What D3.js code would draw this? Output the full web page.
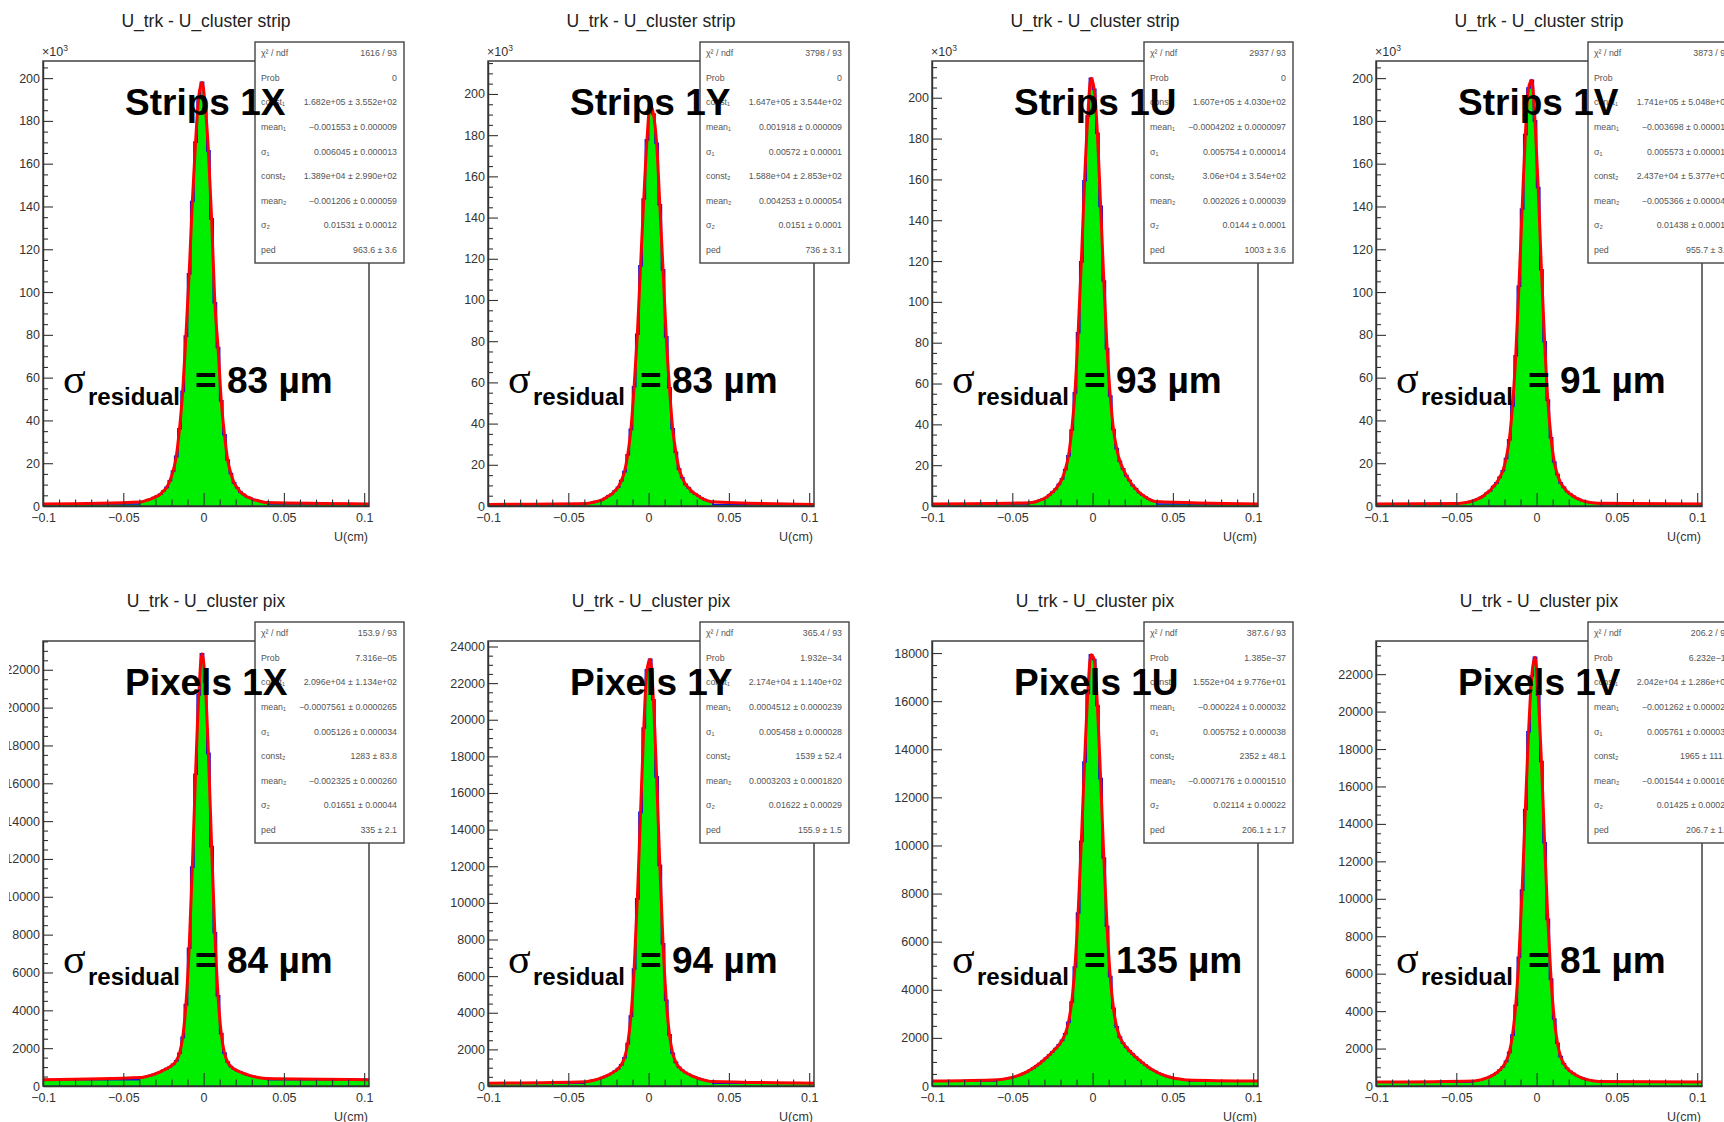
<!DOCTYPE html>
<html>
<head>
<meta charset="utf-8">
<script src="https://cdnjs.cloudflare.com/ajax/libs/d3/7.8.5/d3.min.js"></script>
<style>
  html, body { margin: 0; padding: 0; background: #fff; }
  #residual-grid svg { display: block; font-family: "Liberation Sans", Arial, Helvetica, sans-serif; }
</style>
</head>
<body>
<div id="residual-grid"></div>
<script>
const panelLabels = ["Strips 1X", "Strips 1Y", "Strips 1U", "Strips 1V", "Pixels 1X", "Pixels 1Y", "Pixels 1U", "Pixels 1V"];
const panelTitles = [
  "U_trk - U_cluster strip", "U_trk - U_cluster strip", "U_trk - U_cluster strip", "U_trk - U_cluster strip",
  "U_trk - U_cluster pix", "U_trk - U_cluster pix", "U_trk - U_cluster pix", "U_trk - U_cluster pix"
];
const residualLabels = ["83 µm", "83 µm", "93 µm", "91 µm", "84 µm", "94 µm", "135 µm", "81 µm"];

// strips are counted in units of 10^3 entries (as on their axes), pixels in entries
const yAxisMax = [208, 216, 218, 208, 23520, 24300, 18500, 23770];
const pedestals = [0.96, 0.74, 1.0, 0.96, 335, 156, 206, 207];
const windowStarts = [-0.04, -0.04, -0.04, -0.05, -0.04, -0.04, -0.06, -0.04];
const binWidth = 0.002;

const strips1X = [1.9, 2.3, 2.8, 3.2, 3.9, 4.6, 5.5, 7.0, 8.7, 11.8, 16.3, 23.2, 36.1, 53.6, 79.4, 108.5, 142.3, 170.1, 191.4, 198.0,
  187.1, 166.0, 134.2, 95.0, 74.1, 49.2, 33.3, 21.5, 15.2, 10.8, 8.5, 6.5, 5.4, 4.3, 3.8, 3.0, 2.7, 2.2, 1.9, 1.6];
const strips1Y = [1.2, 1.4, 1.7, 2.1, 2.5, 3.0, 3.9, 4.9, 5.8, 7.4, 9.1, 12.3, 16.7, 24.9, 37.2, 57.9, 83.4, 116.6, 149.0, 177.8,
  194.8, 190.3, 176.1, 146.2, 114.6, 82.1, 57.4, 37.5, 26.1, 17.9, 13.7, 10.5, 8.8, 7.0, 5.9, 4.9, 3.8, 3.1, 2.5, 2.1];
const strips1U = [1.6, 1.8, 2.2, 2.8, 3.4, 4.2, 5.4, 6.8, 8.3, 10.6, 13.3, 17.9, 24.6, 37.2, 55.4, 84.9, 119.6, 159.3, 191.0, 209.5,
  204.1, 182.6, 146.8, 110.2, 77.1, 53.9, 37.5, 28.2, 21.9, 18.2, 14.9, 12.5, 10.1, 8.4, 6.6, 5.4, 4.4, 3.4, 2.7, 2.2];
const strips1V = [1.2, 1.34, 1.52, 1.76, 2.11, 2.6, 3.2, 3.9, 4.8, 6.1, 7.2, 9.1, 10.8, 13.4, 16.5, 22.2, 31.0, 46.8, 70.2, 102.7,
  138.8, 173.6, 195.4, 199.0, 180.0, 148.9, 110.4, 76.8, 49.5, 31.9, 20.6, 14.7, 10.8, 8.7, 6.8, 5.6, 4.5, 3.6, 3.0, 2.4,
  2.0, 1.7, 1.5, 1.35, 1.25];
const pixels1X = [444, 476, 516, 562, 617, 681, 752, 834, 920, 1018, 1143, 1336, 1728, 2569, 4300, 7280, 11570, 16480, 20670, 22850,
  21360, 17580, 12650, 8100, 4770, 2770, 1740, 1265, 1033, 900, 810, 733, 663, 601, 548, 503, 465, 435, 411, 391];
const pixels1Y = [236, 262, 298, 341, 390, 455, 525, 607, 699, 811, 949, 1156, 1543, 2315, 3815, 6391, 10217, 14940, 19550, 22730,
  23300, 21090, 16880, 12050, 7770, 4680, 2800, 1790, 1290, 1020, 860, 740, 642, 556, 482, 416, 361, 315, 276, 247];
const pixels1U = [258, 274, 293, 316, 345, 380, 420, 467, 524, 589, 662, 745, 839, 937, 1050, 1166, 1290, 1422, 1560, 1712,
  1898, 2171, 2652, 3495, 4949, 7195, 10170, 13470, 16320, 17930, 17730, 15820, 12780, 9480, 6640, 4550, 3230, 2457, 2033, 1789,
  1611, 1460, 1328, 1203, 1083, 970, 867, 770, 686, 611, 540, 484, 434, 389, 354, 324, 300, 279, 262, 251];
const pixels1V = [268, 293, 329, 374, 433, 506, 596, 706, 848, 1032, 1317, 1796, 2719, 4313, 6878, 10470, 14770, 18920, 21900, 22900,
  20870, 17330, 12990, 8900, 5710, 3575, 2284, 1568, 1189, 951, 785, 665, 561, 478, 409, 356, 315, 284, 260, 242];
const binCounts = [strips1X, strips1Y, strips1U, strips1V, pixels1X, pixels1Y, pixels1U, pixels1V];

const xTickValues = [-0.1, -0.05, 0, 0.05, 0.1];
const stripYTicks = [0, 20, 40, 60, 80, 100, 120, 140, 160, 180, 200];
const pixelYTicks = [0, 2000, 4000, 6000, 8000, 10000, 12000, 14000, 16000, 18000, 20000, 22000, 24000];

const statLabels = ["χ² / ndf", "Prob", "const₁", "mean₁", "σ₁", "const₂", "mean₂", "σ₂", "ped"];
const statValues = [
  ["1616 / 93", "0", "1.682e+05 ± 3.552e+02", "−0.001553 ± 0.000009", "0.006045 ± 0.000013", "1.389e+04 ± 2.990e+02", "−0.001206 ± 0.000059", "0.01531 ± 0.00012", "963.6 ± 3.6"],
  ["3798 / 93", "0", "1.647e+05 ± 3.544e+02", "0.001918 ± 0.000009", "0.00572 ± 0.00001", "1.588e+04 ± 2.853e+02", "0.004253 ± 0.000054", "0.0151 ± 0.0001", "736 ± 3.1"],
  ["2937 / 93", "0", "1.607e+05 ± 4.030e+02", "−0.0004202 ± 0.0000097", "0.005754 ± 0.000014", "3.06e+04 ± 3.54e+02", "0.002026 ± 0.000039", "0.0144 ± 0.0001", "1003 ± 3.6"],
  ["3873 / 93", "0", "1.741e+05 ± 5.048e+02", "−0.003698 ± 0.000012", "0.005573 ± 0.000016", "2.437e+04 ± 5.377e+02", "−0.005366 ± 0.000045", "0.01438 ± 0.00010", "955.7 ± 3.5"],
  ["153.9 / 93", "7.316e−05", "2.096e+04 ± 1.134e+02", "−0.0007561 ± 0.0000265", "0.005126 ± 0.000034", "1283 ± 83.8", "−0.002325 ± 0.000260", "0.01651 ± 0.00044", "335 ± 2.1"],
  ["365.4 / 93", "1.932e−34", "2.174e+04 ± 1.140e+02", "0.0004512 ± 0.0000239", "0.005458 ± 0.000028", "1539 ± 52.4", "0.0003203 ± 0.0001820", "0.01622 ± 0.00029", "155.9 ± 1.5"],
  ["387.6 / 93", "1.385e−37", "1.552e+04 ± 9.776e+01", "−0.000224 ± 0.000032", "0.005752 ± 0.000038", "2352 ± 48.1", "−0.0007176 ± 0.0001510", "0.02114 ± 0.00022", "206.1 ± 1.7"],
  ["206.2 / 93", "6.232e−11", "2.042e+04 ± 1.286e+02", "−0.001262 ± 0.000023", "0.005761 ± 0.000030", "1965 ± 111.5", "−0.001544 ± 0.000161", "0.01425 ± 0.00028", "206.7 ± 1.6"]
];

class ResidualGrid {
  constructor(containerId) {
    this.containerId = containerId;
    this.width = 1724;
    this.height = 1122;
    this.panelLeft = [43, 488, 932, 1376];
    this.rowTop = [61, 641];
    this.frameWidth = 326;
    this.frameHeight = 445;
    this.xDomain = [-0.1, 0.103];
  }

  render() {
    const svg = d3.select(`#${this.containerId}`)
      .append("svg")
      .attr("width", this.width)
      .attr("height", this.height);

    svg.append("rect")
      .attr("width", this.width)
      .attr("height", this.height)
      .attr("fill", "#fff");

    // the original canvas was cropped a few pixels into the left axis labels
    svg.append("clipPath")
      .attr("id", "page-clip")
      .append("rect")
      .attr("x", 9)
      .attr("width", this.width - 9)
      .attr("height", this.height);

    const page = svg.append("g").attr("clip-path", "url(#page-clip)");

    panelLabels.forEach((label, index) => this.drawPanel(page, svg, index));
  }

  drawPanel(page, svg, index) {
    const col = index % 4;
    const row = Math.floor(index / 4);
    const isStrip = row === 0;
    const w = this.frameWidth;
    const h = this.frameHeight;
    const ped = pedestals[index];
    const counts = binCounts[index];
    const start = windowStarts[index];
    const end = start + counts.length * binWidth;

    const g = page.append("g")
      .attr("transform", `translate(${this.panelLeft[col]},${this.rowTop[row]})`);

    const x = d3.scaleLinear().domain(this.xDomain).range([0, w]);
    const y = d3.scaleLinear().domain([0, yAxisMax[index]]).range([h, 0]);

    const clipId = `frame-clip-${index}`;
    svg.append("clipPath")
      .attr("id", clipId)
      .append("rect")
      .attr("width", w)
      .attr("height", h);

    const stepPoints = [{ u: this.xDomain[0], v: ped }]
      .concat(counts.map((v, k) => ({ u: start + k * binWidth, v })))
      .concat([{ u: end, v: ped }, { u: this.xDomain[1], v: ped }]);
    const fitPoints = [{ u: this.xDomain[0], v: ped }]
      .concat(counts.map((v, k) => ({ u: start + (k + 0.5) * binWidth, v })))
      .concat([{ u: this.xDomain[1], v: ped }]);

    const plot = g.append("g").attr("clip-path", `url(#${clipId})`);

    plot.append("path")
      .datum(stepPoints)
      .attr("fill", "#00ee00")
      .attr("d", d3.area()
        .x((d) => x(d.u))
        .y0(h)
        .y1((d) => y(d.v))
        .curve(d3.curveStepAfter));

    plot.append("path")
      .datum(stepPoints)
      .attr("fill", "none")
      .attr("stroke", "#1010e0")
      .attr("stroke-width", 1.6)
      .attr("d", d3.line()
        .x((d) => x(d.u))
        .y((d) => y(d.v))
        .curve(d3.curveStepAfter));

    plot.append("path")
      .datum(fitPoints)
      .attr("fill", "none")
      .attr("stroke", "#ff0000")
      .attr("stroke-width", 3)
      .attr("stroke-linejoin", "round")
      .attr("d", d3.line()
        .x((d) => x(d.u))
        .y((d) => y(d.v))
        .curve(d3.curveMonotoneX));

    const fontFamily = "Liberation Sans, Arial, Helvetica, sans-serif";
    const styleAxis = (axisGroup) => axisGroup
      .attr("font-family", fontFamily)
      .attr("font-size", 12.5)
      .call((a) => a.selectAll("line").attr("stroke", "#333").attr("stroke-width", 1.1))
      .call((a) => a.selectAll("text").attr("fill", "#333"))
      .call((a) => a.select(".domain").attr("stroke", "#333").attr("stroke-width", 1.4));

    // x axis, major and minor ticks
    const xMinor = d3.range(-10, 11)
      .map((t) => t / 100)
      .filter((t) => !xTickValues.some((m) => Math.abs(m - t) < 1e-9));

    g.append("g")
      .attr("transform", `translate(0,${h})`)
      .call(d3.axisBottom(x).tickValues(xMinor).tickSizeInner(-6.5).tickSizeOuter(0).tickFormat(""))
      .call((a) => a.select(".domain").remove())
      .call((a) => a.selectAll("line").attr("stroke", "#333").attr("stroke-width", 1.1));

    g.append("g")
      .attr("transform", `translate(0,${h})`)
      .call(d3.axisBottom(x)
        .tickValues(xTickValues)
        .tickSizeInner(-13)
        .tickSizeOuter(0)
        .tickPadding(7)
        .tickFormat(d3.format("~g")))
      .call(styleAxis);

    // y axis
    const yMajorStep = isStrip ? 20 : 2000;
    const yMinorStep = isStrip ? 5 : 500;
    const yTicks = (isStrip ? stripYTicks : pixelYTicks).filter((t) => t <= yAxisMax[index]);
    const yMinor = d3.range(0, yAxisMax[index], yMinorStep).filter((t) => t % yMajorStep !== 0);

    g.append("g")
      .call(d3.axisLeft(y).tickValues(yMinor).tickSizeInner(-5).tickSizeOuter(0).tickFormat(""))
      .call((a) => a.select(".domain").remove())
      .call((a) => a.selectAll("line").attr("stroke", "#333").attr("stroke-width", 1.1));

    g.append("g")
      .call(d3.axisLeft(y)
        .tickValues(yTicks)
        .tickSizeInner(-10)
        .tickSizeOuter(0)
        .tickPadding(3)
        .tickFormat(d3.format("d")))
      .call(styleAxis);

    g.append("rect")
      .attr("width", w)
      .attr("height", h)
      .attr("fill", "none")
      .attr("stroke", "#333")
      .attr("stroke-width", 1.4);

    if (isStrip) {
      const exp = g.append("text")
        .attr("x", -1)
        .attr("y", -5)
        .attr("font-size", 12.5)
        .attr("fill", "#333")
        .text("×10");
      exp.append("tspan")
        .attr("dy", -5)
        .attr("font-size", 8.5)
        .text("3");
    }

    g.append("text")
      .attr("x", 163)
      .attr("y", -34)
      .attr("text-anchor", "middle")
      .attr("font-size", 17.5)
      .attr("fill", "#222")
      .text(panelTitles[index]);

    g.append("text")
      .attr("x", w - 1)
      .attr("y", h + 35)
      .attr("text-anchor", "end")
      .attr("font-size", 12.5)
      .attr("fill", "#333")
      .text("U(cm)");

    // fit statistics box
    const box = { x: 212, y: -19, w: 149, h: 221 };
    const stats = g.append("g");
    stats.append("rect")
      .attr("x", box.x)
      .attr("y", box.y)
      .attr("width", box.w)
      .attr("height", box.h)
      .attr("fill", "#fff")
      .attr("stroke", "#444")
      .attr("stroke-width", 1.4);

    const rowHeight = box.h / statLabels.length;
    statLabels.forEach((label, r) => {
      const cy = box.y + (r + 0.5) * rowHeight - 1;
      stats.append("text")
        .attr("x", box.x + 6)
        .attr("y", cy)
        .attr("dy", "0.35em")
        .attr("font-size", 8.8)
        .attr("fill", "#555")
        .text(label);
      stats.append("text")
        .attr("x", box.x + box.w - 7)
        .attr("y", cy)
        .attr("dy", "0.35em")
        .attr("text-anchor", "end")
        .attr("font-size", 8.8)
        .attr("fill", "#555")
        .text(statValues[index][r]);
    });

    // big annotations on top of everything
    g.append("text")
      .attr("x", 82)
      .attr("y", 54)
      .attr("font-size", 37)
      .attr("font-weight", "bold")
      .attr("fill", "#000")
      .text(panelLabels[index]);

    const sigmaY = 332;
    g.append("text")
      .attr("x", 20)
      .attr("y", sigmaY)
      .attr("font-family", "Liberation Serif, DejaVu Serif, serif")
      .attr("font-size", 42)
      .attr("fill", "#000")
      .text("σ");
    g.append("text")
      .attr("x", 45)
      .attr("y", sigmaY + 12)
      .attr("font-size", 24)
      .attr("font-weight", "bold")
      .attr("fill", "#000")
      .text("residual");
    g.append("text")
      .attr("x", 152)
      .attr("y", sigmaY)
      .attr("font-size", 37)
      .attr("font-weight", "bold")
      .attr("fill", "#000")
      .text("=");
    g.append("text")
      .attr("x", 184)
      .attr("y", sigmaY)
      .attr("font-size", 37)
      .attr("font-weight", "bold")
      .attr("fill", "#000")
      .text(residualLabels[index]);
  }
}

new ResidualGrid("residual-grid").render();
</script>
</body>
</html>
